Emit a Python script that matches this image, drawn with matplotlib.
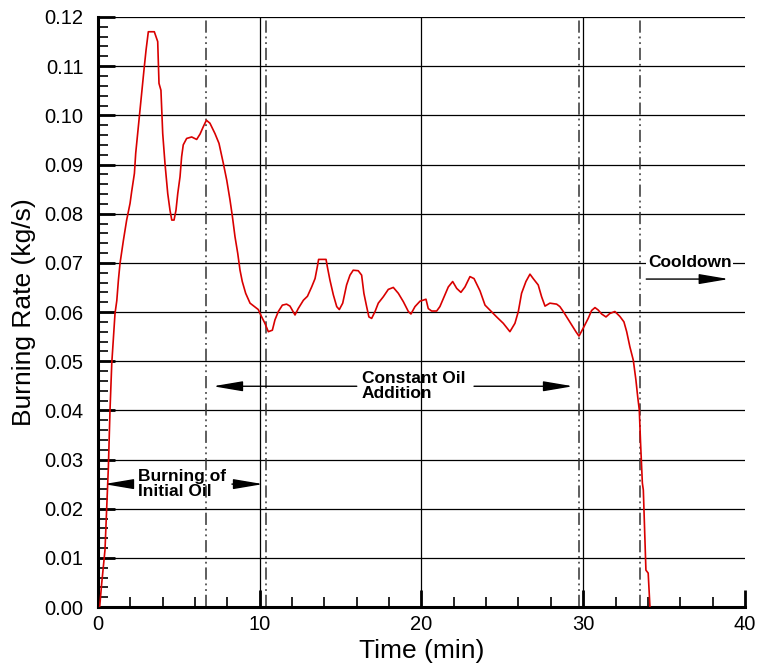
import matplotlib
matplotlib.use("Agg")
import matplotlib.pyplot as plt
from matplotlib.ticker import MultipleLocator, FormatStrFormatter

plt.rcParams['font.family'] = ['Liberation Sans', 'DejaVu Sans']

# burning rate curve
time_min = [0.10, 0.23, 0.43, 0.54, 0.64, 0.74, 0.85, 1.05, 1.16, 1.26, 1.36, 1.57,
            1.77, 1.98, 2.08, 2.25, 2.33, 2.45, 2.60, 2.70, 2.84, 2.97, 3.11, 3.48,
            3.69, 3.77, 3.89, 4.00, 4.14, 4.31, 4.45, 4.56, 4.70, 4.82, 4.93, 5.07,
            5.17, 5.27, 5.48, 5.79, 6.10, 6.31, 6.51, 6.70, 6.92, 7.23, 7.48, 7.75,
            7.96, 8.16, 8.31, 8.47, 8.64, 8.78, 8.92, 9.13, 9.40, 9.71, 9.91, 10.12,
            10.32, 10.53, 10.78, 10.94, 11.15, 11.40, 11.66, 11.87, 12.18, 12.38, 12.70, 12.95,
            13.21, 13.42, 13.56, 13.64, 14.10, 14.18, 14.34, 14.55, 14.76, 14.92, 15.13, 15.37,
            15.58, 15.78, 16.09, 16.30, 16.44, 16.61, 16.75, 16.92, 17.13, 17.33, 17.64, 17.95,
            18.26, 18.57, 18.88, 19.19, 19.35, 19.60, 19.91, 20.28, 20.42, 20.63, 20.94, 21.14,
            21.45, 21.66, 21.93, 22.18, 22.44, 22.69, 23.00, 23.25, 23.62, 23.93, 24.23, 24.65,
            25.06, 25.47, 25.78, 25.99, 26.19, 26.46, 26.71, 26.91, 27.22, 27.43, 27.64, 27.94,
            28.36, 28.56, 28.77, 28.98, 29.29, 29.55, 29.74, 30.00, 30.31, 30.52, 30.73, 30.93,
            31.14, 31.41, 31.65, 31.96, 32.27, 32.52, 32.69, 32.89, 33.10, 33.26, 33.37, 33.47,
            33.55, 33.66, 33.72, 33.80, 33.88, 34.02, 34.13]
burn_rate = [0.0000, 0.0049, 0.0116, 0.0204, 0.0285, 0.0400, 0.0496, 0.0597, 0.0623, 0.0665, 0.0699, 0.0746,
             0.0787, 0.0821, 0.0845, 0.0882, 0.0923, 0.0963, 0.1011, 0.1045, 0.1092, 0.1133, 0.1170, 0.1170,
             0.1150, 0.1065, 0.1051, 0.0963, 0.0902, 0.0841, 0.0807, 0.0787, 0.0787, 0.0807, 0.0841, 0.0875,
             0.0916, 0.0940, 0.0953, 0.0956, 0.0951, 0.0962, 0.0977, 0.0990, 0.0984, 0.0963, 0.0943, 0.0902,
             0.0868, 0.0828, 0.0794, 0.0753, 0.0719, 0.0685, 0.0662, 0.0638, 0.0618, 0.0610, 0.0605, 0.0590,
             0.0577, 0.0560, 0.0563, 0.0584, 0.0601, 0.0614, 0.0616, 0.0612, 0.0594, 0.0607, 0.0624, 0.0632,
             0.0651, 0.0668, 0.0692, 0.0707, 0.0707, 0.0692, 0.0665, 0.0635, 0.0611, 0.0605, 0.0618, 0.0655,
             0.0675, 0.0685, 0.0684, 0.0675, 0.0638, 0.0611, 0.0590, 0.0587, 0.0601, 0.0618, 0.0631, 0.0646,
             0.0650, 0.0638, 0.0621, 0.0601, 0.0596, 0.0611, 0.0622, 0.0626, 0.0607, 0.0602, 0.0602, 0.0611,
             0.0635, 0.0651, 0.0662, 0.0648, 0.0640, 0.0651, 0.0672, 0.0668, 0.0643, 0.0614, 0.0604, 0.0590,
             0.0577, 0.0560, 0.0577, 0.0601, 0.0638, 0.0662, 0.0677, 0.0668, 0.0655, 0.0631, 0.0612, 0.0618,
             0.0616, 0.0611, 0.0601, 0.0590, 0.0574, 0.0560, 0.0551, 0.0567, 0.0587, 0.0603, 0.0609, 0.0604,
             0.0596, 0.0590, 0.0597, 0.0601, 0.0591, 0.0580, 0.0560, 0.0529, 0.0502, 0.0462, 0.0428, 0.0401,
             0.0333, 0.0252, 0.0238, 0.0157, 0.0075, 0.0069, 0.0000]

phase_marks = [6.68, 10.39, 29.74, 33.5]
time_grid = [10, 20, 30]

fig = plt.figure(figsize=(7.57, 6.64), dpi=100)
ax = fig.add_axes([0.1295, 0.0858, 0.8545, 0.8886])

ax.set_xlim(0, 40)
ax.set_ylim(0, 0.12)

ax.xaxis.set_major_locator(MultipleLocator(10))
ax.xaxis.set_minor_locator(MultipleLocator(2))
ax.yaxis.set_major_locator(MultipleLocator(0.01))
ax.yaxis.set_minor_locator(MultipleLocator(0.002))
ax.yaxis.set_major_formatter(FormatStrFormatter('%.2f'))

# horizontal grid from the axis, vertical grid only at inner decades
ax.grid(True, axis='y', which='major', color='black', lw=0.9)
for xg in time_grid:
    ax.axvline(xg, color='black', lw=0.9, zorder=0.5)
ax.set_axisbelow(True)

for sp in ['top', 'right']:
    ax.spines[sp].set_visible(False)
for sp in ['left', 'bottom']:
    ax.spines[sp].set_linewidth(2.2)

ax.tick_params(which='major', direction='in', length=12, width=2, labelsize=14.5)
ax.tick_params(which='minor', direction='in', length=7, width=1.2)
ax.tick_params(axis='y', which='major', pad=10.5)
ax.tick_params(axis='x', which='major', pad=6)

for xm in phase_marks:
    ax.axvline(xm, color='#333333', lw=1.1, dashes=(8, 2.5, 1.2, 2.5, 1.2, 2.5))

ax.plot(time_min, burn_rate, color='#d90000', lw=1.2, zorder=5)

ax.set_xlabel('Time (min)', fontsize=19, labelpad=3)
ax.set_ylabel('Burning Rate (kg/s)', fontsize=19, labelpad=6)

arrow = dict(arrowstyle='-|>,head_length=1.3,head_width=0.22', color='black', lw=1,
             mutation_scale=14, shrinkA=0, shrinkB=0)
txt = dict(fontsize=12.5, fontweight='bold', linespacing=1.0, va='center', ha='left')

ax.text(2.47, 0.025, 'Burning of\nInitial Oil', **txt)
ax.annotate('', xy=(0.37, 0.025), xytext=(1.67, 0.025), arrowprops=arrow)
ax.annotate('', xy=(10.2, 0.025), xytext=(8.28, 0.025), arrowprops=arrow)

ax.text(16.3, 0.0449, 'Constant Oil\nAddition', **txt)
ax.annotate('', xy=(7.11, 0.0449), xytext=(16.0, 0.0449), arrowprops=arrow)
ax.annotate('', xy=(29.37, 0.0449), xytext=(23.25, 0.0449), arrowprops=arrow)

ax.text(34.0, 0.070, 'Cooldown', zorder=6,
        bbox=dict(facecolor='white', edgecolor='none', pad=1), **txt)
ax.annotate('', xy=(39.0, 0.0667), xytext=(33.9, 0.0667), arrowprops=arrow)

fig.savefig('out.png', dpi=100)
